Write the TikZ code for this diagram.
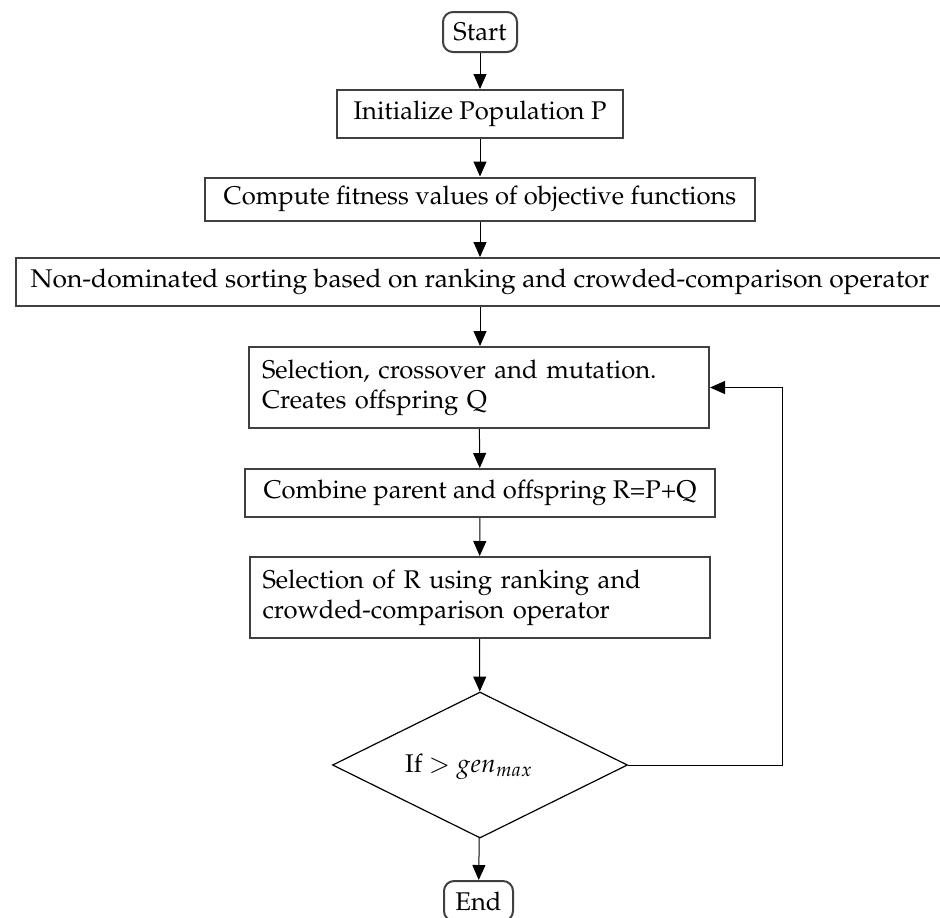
\documentclass[tikz,border=0pt]{standalone}
\usepackage[T1]{fontenc}
\usepackage{mathpazo}
\usetikzlibrary{arrows.meta,shapes.geometric}
\begin{document}
\begin{tikzpicture}[x=0.5pt,y=-0.5pt,
  font=\fontsize{12.8}{15}\selectfont,
  box/.style={draw=black!75, line width=1pt, inner sep=0pt},
  lbox/.style={box, inner xsep=6.5pt, text width=217pt, align=left, minimum height=40.5pt},
  term/.style={box, rounded corners=5pt, minimum width=37pt, minimum height=20pt},
  arr/.style={-{Triangle[length=7.5pt,width=6.5pt]}, line width=0.5pt}]
\useasboundingbox (0,0) rectangle (940,917);
\node[term] (start) at (480,32) {Start};
\node[box, minimum width=143pt, minimum height=24pt] (init) at (480,114) {Initialize Population P};
\node[box, minimum width=275pt, minimum height=21.5pt] (fit) at (480,199) {Compute fitness values of objective functions};
\node[box, minimum width=464pt, minimum height=24pt] (sort) at (480,282) {\scalebox{1.03}[1]{Non-dominated sorting based on ranking and crowded-comparison operator}};
\node[lbox] (selq) at (479,387.5) {Selection, crossover and mutation.\\Creates offspring Q};
\node[box, minimum width=235pt, minimum height=24pt] (comb) at (480,493) {Combine parent and offspring R=P+Q};
\node[lbox] (selr) at (479.5,597.5) {Selection of R using ranking and\\crowded-comparison operator};
\node[draw, diamond, line width=0.6pt, inner sep=0pt, minimum width=147.5pt, minimum height=73pt] (dec) at (480,765) {};
\node (dectext) at (469,767) {If $>$ $gen_{max}$};
\node[term, minimum width=34.5pt] (end) at (478.5,901) {End};
\coordinate (fb) at (782,765);
\draw[arr] (start) -- (init);
\draw[arr] (init) -- (fit);
\draw[arr] (fit) -- (sort);
\draw[arr] (sort) -- (selq.north -| sort.south);
\draw[arr] (selq) -- (comb);
\draw[arr] (comb) -- (selr);
\draw[arr] (selr) -- (dec);
\draw[arr] (dec) -- (end);
\draw[arr] (dec.east) -- (fb) |- (selq.east);
\end{tikzpicture}
\end{document}
